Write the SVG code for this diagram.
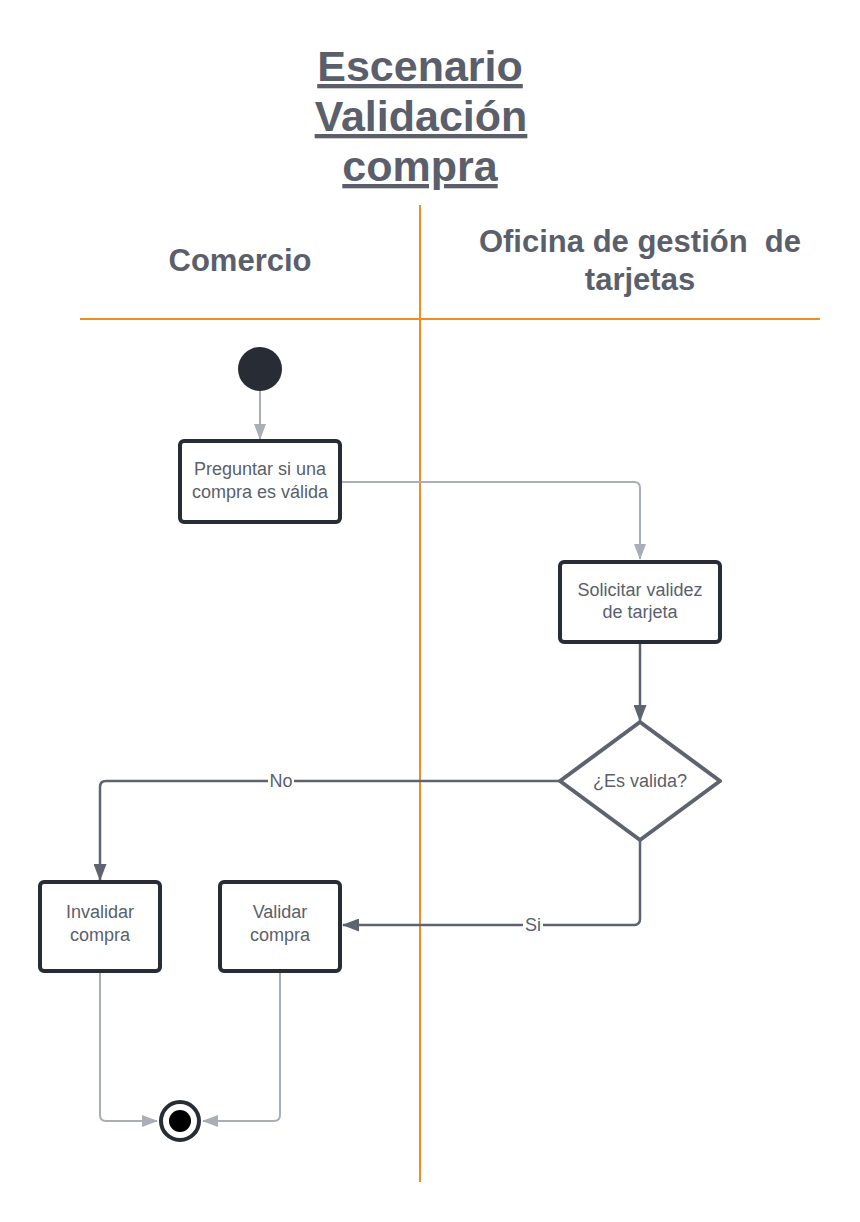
<svg xmlns="http://www.w3.org/2000/svg" width="860" height="1222" viewBox="0 0 860 1222">
<style>
.t{font-family:"Liberation Sans",Arial,sans-serif;fill:#5a5f6b;text-anchor:middle}
.title{font-size:43px;font-weight:bold;text-decoration:underline}
.lane{font-size:31px;font-weight:bold}
.lbl{font-size:18px}
.box{fill:#fff;stroke:#282c34;stroke-width:4}
.lc{fill:none;stroke:#a9aeb7;stroke-width:2}
.dc{fill:none;stroke:#5e6370;stroke-width:2.5}
.sw{stroke:#ef8d22;stroke-width:2;fill:none}
</style>
<defs>
<marker id="al" markerWidth="16" markerHeight="12" viewBox="0 0 16 12" refX="15" refY="6" orient="auto" markerUnits="userSpaceOnUse"><path d="M0,0 L16,6 L0,12 z" fill="#a9aeb7"/></marker>
<marker id="ad" markerWidth="17" markerHeight="13" viewBox="0 0 17 13" refX="16" refY="6.5" orient="auto" markerUnits="userSpaceOnUse"><path d="M0,0 L17,6.5 L0,13 z" fill="#5e6370"/></marker>
</defs>
<rect width="860" height="1222" fill="#fff"/>
<g id="title">
<text class="t title" x="420" y="81">Escenario</text>
<text class="t title" x="421" y="131">Validación</text>
<text class="t title" x="420" y="181">compra</text>
</g>
<g id="swimlanes">
<line class="sw" x1="420" y1="205" x2="420" y2="1182"/>
<line class="sw" x1="80" y1="319" x2="820" y2="319"/>
<text class="t lane" x="240" y="271">Comercio</text>
<text class="t lane" x="640" y="252" xml:space="preserve">Oficina de gestión  de</text>
<text class="t lane" x="640" y="290">tarjetas</text>
</g>
<g id="connectors">
<path class="lc" d="M260,391 V439" marker-end="url(#al)"/>
<path class="lc" d="M342,482 H634 Q640,482 640,488 V559" marker-end="url(#al)"/>
<path class="dc" d="M640,642 V721" marker-end="url(#ad)"/>
<path class="dc" d="M560,781 H106 Q100,781 100,787 V880" marker-end="url(#ad)"/>
<path class="dc" d="M640,841 V919 Q640,925 634,925 H343" marker-end="url(#ad)"/>
<path class="lc" d="M100,972 V1115 Q100,1121 106,1121 H157" marker-end="url(#al)"/>
<path class="lc" d="M280,972 V1115 Q280,1121 274,1121 H203" marker-end="url(#al)"/>
<rect x="268" y="771" width="26" height="18" fill="#fff"/>
<text class="t lbl" x="281" y="787">No</text>
<rect x="523" y="915" width="20" height="18" fill="#fff"/>
<text class="t lbl" x="533" y="931">Si</text>
</g>
<g id="start">
<circle cx="260" cy="369" r="22" fill="#282c34"/>
</g>
<g id="preguntar">
<rect class="box" x="180" y="441" width="160" height="81" rx="4"/>
<text class="t lbl" x="260" y="475">Preguntar si una</text>
<text class="t lbl" x="260" y="498">compra es válida</text>
</g>
<g id="solicitar">
<rect class="box" x="560" y="562" width="160" height="80" rx="4"/>
<text class="t lbl" x="640" y="596">Solicitar validez</text>
<text class="t lbl" x="640" y="618">de tarjeta</text>
</g>
<g id="decision">
<path d="M640,722 L720,781 L640,840 L560,781 Z" fill="#fff" stroke="#5e6370" stroke-width="4" stroke-linejoin="round"/>
<text class="t lbl" x="640" y="787">¿Es valida?</text>
</g>
<g id="invalidar">
<rect class="box" x="40" y="882" width="120" height="89" rx="4"/>
<text class="t lbl" x="100" y="918">Invalidar</text>
<text class="t lbl" x="100" y="941">compra</text>
</g>
<g id="validar">
<rect class="box" x="220" y="882" width="120" height="89" rx="4"/>
<text class="t lbl" x="280" y="918">Validar</text>
<text class="t lbl" x="280" y="941">compra</text>
</g>
<g id="end">
<circle cx="180" cy="1121" r="19" fill="#fff" stroke="#282c34" stroke-width="4"/>
<circle cx="180" cy="1121" r="11" fill="#000"/>
</g>
</svg>
